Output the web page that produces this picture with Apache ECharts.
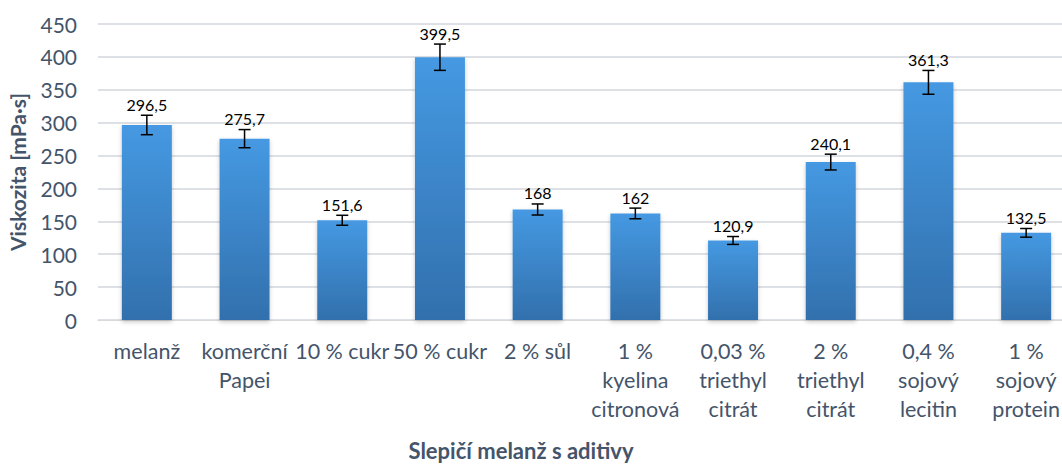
<!DOCTYPE html>
<html>
<head>
<meta charset="utf-8">
<script src="https://cdn.jsdelivr.net/npm/echarts@6/dist/echarts.min.js"></script>
<style>
  html, body { margin: 0; padding: 0; background: #fff; }
  #chart { width: 1062px; height: 465px; }
</style>
</head>
<body>
<div id="chart"></div>
<script>
// Viscosity of egg melange with additives (mean and error)
const categories = [
  'melanž', 'komerční\nPapei', '10 % cukr', '50 % cukr', '2 % sůl',
  '1 %\nkyelina\ncitronová', '0,03 %\ntriethyl\ncitrát', '2 %\ntriethyl\ncitrát',
  '0,4 %\nsojový\nlecitin', '1 %\nsojový\nprotein'
];
const viscosity = [296.5, 275.7, 151.6, 399.5, 168, 162, 120.9, 240.1, 361.3, 132.5];
const errors = [14.8, 13.8, 7.6, 20.0, 8.4, 8.1, 6.0, 12.0, 18.1, 6.6];
const yTicks = [0, 50, 100, 150, 200, 250, 300, 350, 400, 450];

const textColor = '#44546A';
const fontFamily = 'Lato, "Open Sans", "DejaVu Sans", sans-serif';

const chart = echarts.init(document.getElementById('chart'), null, { renderer: 'svg' });

const fmt = v => String(v).replace('.', ',');

chart.setOption({
  animation: false,
  title: {
    text: 'Slepičí melanž s aditivy',
    left: 521,
    top: 439,
    textAlign: 'center',
    padding: 0,
    textStyle: { color: textColor, fontSize: 22, fontWeight: 'bold', fontFamily }
  },
  grid: { left: 98, right: -13, top: 24, bottom: 145, containLabel: false, outerBoundsMode: 'none' },
  xAxis: {
    type: 'category',
    data: categories,
    axisLine: { lineStyle: { color: '#d9d9d9', width: 1 } },
    axisTick: { show: false },
    axisLabel: {
      interval: 0, color: textColor, fontSize: 21.5, fontFamily,
      lineHeight: 29, margin: 16, verticalAlign: 'top'
    }
  },
  yAxis: {
    type: 'value',
    min: yTicks[0],
    max: yTicks[yTicks.length - 1],
    interval: 50,
    name: 'Viskozita [mPa·s]',
    nameLocation: 'middle',
    nameGap: 70,
    nameRotate: 90,
    nameTextStyle: { color: textColor, fontSize: 21, fontWeight: 'bold', fontFamily },
    axisLine: { show: false },
    axisTick: { show: false },
    axisLabel: { color: textColor, fontSize: 21, fontFamily, margin: 21 },
    splitLine: { lineStyle: { color: '#dde1e6', width: 2 } }
  },
  series: [
    {
      type: 'bar',
      data: viscosity,
      barWidth: 50,
      itemStyle: {
        color: new echarts.graphic.LinearGradient(0, 0, 0, 1, [
          { offset: 0, color: '#4599e2' },
          { offset: 1, color: '#3270ad' }
        ]),
        shadowColor: 'rgba(0,0,0,0.22)',
        shadowBlur: 4,
        shadowOffsetY: 2
      }
    },
    {
      type: 'custom',
      data: viscosity.map((v, i) => [i, v, errors[i]]),
      z: 5,
      renderItem: function (params, api) {
        const i = api.value(0);
        const v = api.value(1);
        const e = api.value(2);
        const top = api.coord([i, v + e]);
        const bot = api.coord([i, v - e]);
        const half = 6;
        const style = { stroke: '#000', lineWidth: 1.5 };
        return {
          type: 'group',
          children: [
            { type: 'line', shape: { x1: top[0], y1: top[1], x2: bot[0], y2: bot[1] }, style },
            { type: 'line', shape: { x1: top[0] - half, y1: top[1], x2: top[0] + half, y2: top[1] }, style },
            { type: 'line', shape: { x1: bot[0] - half, y1: bot[1], x2: bot[0] + half, y2: bot[1] }, style },
            {
              type: 'text',
              style: {
                text: fmt(v), x: top[0], y: top[1] - 3,
                align: 'center', verticalAlign: 'bottom',
                fill: '#000', fontSize: 16, fontFamily
              }
            }
          ]
        };
      }
    }
  ]
});
</script>
</body>
</html>
